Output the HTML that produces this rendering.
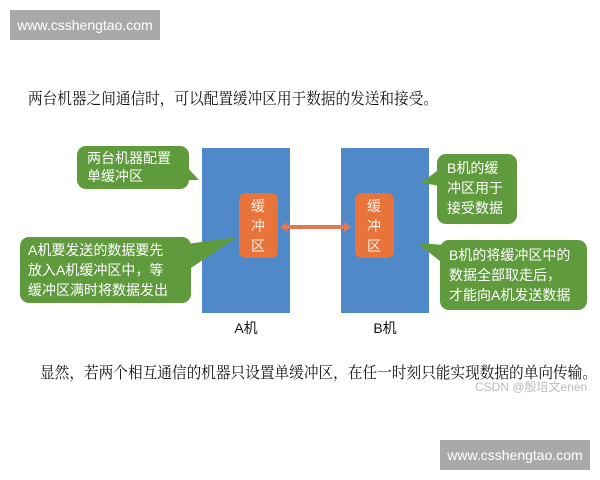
<!DOCTYPE html>
<html><head><meta charset="utf-8"><style>
body{margin:0;width:600px;height:480px;background:#fff;position:relative;overflow:hidden;font-family:"Liberation Sans","Noto Sans CJK SC",sans-serif;}
.wm{position:absolute;width:150px;height:30px;background:#a9a9a9;color:#fff;font-size:14px;line-height:30px;text-align:center;}
svg{position:absolute;left:0;top:0}
</style></head><body>
<div class="wm" style="left:10px;top:10px">www.csshengtao.com</div>
<div class="wm" style="left:440px;top:440px">www.csshengtao.com</div>
<svg width="600" height="480" font-family="Liberation Sans, Noto Sans CJK SC, sans-serif">
<g font-family="Liberation Serif, Noto Serif CJK SC, serif" fill="#111" font-size="16">
<text x="28" y="104" textLength="410" lengthAdjust="spacingAndGlyphs">两台机器之间通信时，可以配置缓冲区用于数据的发送和接受。</text>
<text x="40" y="378" textLength="557" lengthAdjust="spacingAndGlyphs">显然，若两个相互通信的机器只设置单缓冲区，在任一时刻只能实现数据的单向传输。</text>
</g>
<text x="475" y="391" font-size="12" fill="#bbb">CSDN @殷培文enen</text>
<rect x="202" y="148" width="88" height="165" fill="#4f89c9"/>
<rect x="341" y="148" width="88" height="165" fill="#4f89c9"/>
<rect x="239" y="193" width="39" height="65" rx="7" fill="#e8743b"/>
<rect x="355" y="193" width="39" height="65" rx="7" fill="#e8743b"/>
<g fill="#fff" font-size="14" text-anchor="middle" opacity="0.9">
<text x="258" y="211">缓</text><text x="258" y="231">冲</text><text x="258" y="251">区</text>
<text x="374" y="211">缓</text><text x="374" y="231">冲</text><text x="374" y="251">区</text></g>
<polygon points="280,227 287,222 287,225 344,225 344,222 351,227 344,232 344,229 287,229 287,232" fill="#e07a52"/>
<g fill="#5f9a3c">
<rect x="77" y="146" width="112" height="43" rx="9"/><polygon points="185,165 199,180 185,180"/>
<rect x="20" y="237" width="171" height="66" rx="9"/><polygon points="180,245 237,237 185,272"/>
<rect x="437" y="154" width="80" height="70" rx="9"/><polygon points="441,168 421,183 441,186"/>
<rect x="440" y="240" width="147" height="70" rx="9"/><polygon points="445,245 417,243 445,265"/>
</g>
<g fill="#fff" font-size="14">
<text x="87" y="163">两台机器配置</text><text x="87" y="181">单缓冲区</text>
<text x="28" y="255">A机要发送的数据要先</text><text x="28" y="275">放入A机缓冲区中，等</text><text x="28" y="295">缓冲区满时将数据发出</text>
<text x="447" y="173">B机的缓</text><text x="447" y="193">冲区用于</text><text x="447" y="213">接受数据</text>
<text x="449" y="260">B机的将缓冲区中的</text><text x="449" y="280">数据全部取走后，</text><text x="449" y="300">才能向A机发送数据</text>
</g>
<g fill="#111" font-size="14" text-anchor="middle">
<text x="246" y="333">A机</text><text x="385" y="333">B机</text></g>
</svg>
</body></html>
